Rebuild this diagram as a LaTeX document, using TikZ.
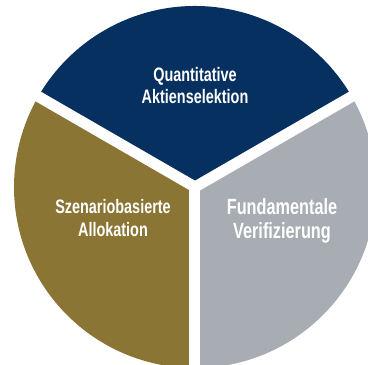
\documentclass[tikz,border=0pt]{standalone}
\usepackage{fontspec}
\newfontfamily\condfont[FakeStretch=0.74]{Liberation Sans}
\definecolor{navy}{HTML}{06305F}
\definecolor{olive}{HTML}{8A7535}
\definecolor{slate}{HTML}{A7ADB3}
\begin{document}
\begin{tikzpicture}[x=1pt,y=-1pt,
  lbl/.style={text=white,align=center,inner sep=0pt,font=\condfont\bfseries},
  gap/.style={draw=white,line width=11pt}]
\useasboundingbox (0,0) rectangle (368,365);
\clip (0,0) rectangle (368,365);
\coordinate (c) at (195,187);
\fill[navy] (c) -- ++(30:181 and -181) arc[start angle=-30,end angle=-150,radius=181] -- cycle;
\fill[slate] (195,187) -- (195,368) arc[start angle=-90,end angle=30,x radius=181,y radius=-181] -- cycle;
\fill[olive] (195,187) -- (195,368) arc[start angle=270,end angle=150,x radius=181,y radius=-181] -- cycle;
\draw[gap] (c) -- (195,380);
\draw[gap] (c) -- ++(-190,-109.7);
\draw[gap] (c) -- ++(190,-109.7);
\node[lbl,font=\condfont\bfseries\fontsize{19.5}{22}\selectfont] (q) at (195,86) {Quantitative\\Aktienselektion};
\node[lbl,font=\condfont\bfseries\fontsize{19.5}{23}\selectfont] (s) at (113,218) {Szenariobasierte\\Allokation};
\node[lbl,font=\condfont\bfseries\fontsize{22}{24.5}\selectfont] (f) at (282,221) {Fundamentale\\Verifizierung};
\end{tikzpicture}
\end{document}
